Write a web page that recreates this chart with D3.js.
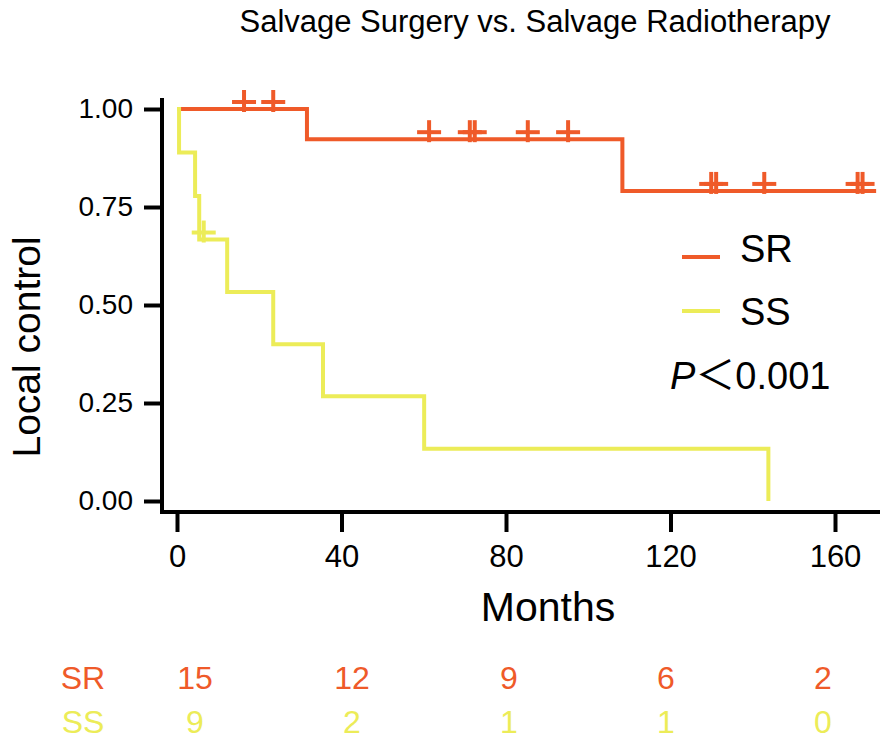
<!DOCTYPE html>
<html>
<head>
<meta charset="utf-8">
<script src="https://cdn.jsdelivr.net/npm/d3@7"></script>
<style>
  body { margin: 0; background: #fff; }
  text { font-family: "Liberation Sans", Arial, sans-serif; }
</style>
</head>
<body>
<svg width="886" height="745"></svg>
<script>
// Kaplan-Meier steps: [time, survival after the step]
var srSteps = [[0, 1.0], [31.6, 0.923], [108.3, 0.791]];
var srEnd = 170;
var srCensor = [16.3, 23.4, 61.3, 71.2, 72.4, 85.3, 95.1, 129.9, 131.1, 142.8, 165.5, 166.7];

var ssSteps = [[0, 1.0], [0.5, 0.889], [4.4, 0.778], [5.4, 0.667], [12.2, 0.533],
               [23.4, 0.4], [35.5, 0.267], [60.1, 0.133], [143.8, 0.0]];
var ssEnd = 143.8;
var ssCensor = [6.5];

var xTicks = [0, 40, 80, 120, 160];
var yTicks = [0, 0.25, 0.5, 0.75, 1];
var riskTimes = [0, 40, 80, 120, 160];
var srRisk = [15, 12, 9, 6, 2];
var ssRisk = [9, 2, 1, 1, 0];

var srColor = "#ef5a29", ssColor = "#ecec58";

var svg = d3.select("svg");

var x = d3.scaleLinear().domain([0, 160]).range([177, 835]);
var y = d3.scaleLinear().domain([0, 1]).range([501, 109]);

// title
svg.append("text")
    .attr("x", 535).attr("y", 32)
    .attr("text-anchor", "middle")
    .style("font-size", "31px")
    .text("Salvage Surgery vs. Salvage Radiotherapy");

// axes
var yAxis = svg.append("g")
    .attr("transform", "translate(162,0)")
    .call(d3.axisLeft(y).tickValues(yTicks).tickFormat(d3.format(".2f")).tickSize(18).tickPadding(11));
var xAxis = svg.append("g")
    .attr("transform", "translate(0,512)")
    .call(d3.axisBottom(x).tickValues(xTicks).tickSize(20).tickPadding(12));

[yAxis, xAxis].forEach(function(a) {
  a.select(".domain").remove();
  a.selectAll("line").attr("stroke", "#000").attr("stroke-width", 4);
  a.selectAll("text").attr("fill", "#000");
});
yAxis.selectAll("text").style("font-size", "28px");
xAxis.selectAll("text").style("font-size", "31px").attr("dy", "0.75em");

svg.append("path")
    .attr("d", "M162,98V512H880")
    .attr("fill", "none")
    .attr("stroke", "#000")
    .attr("stroke-width", 4);

svg.append("text")
    .attr("transform", "translate(40,347) rotate(-90)")
    .attr("text-anchor", "middle")
    .style("font-size", "39px")
    .text("Local control");

svg.append("text")
    .attr("x", 548).attr("y", 621)
    .attr("text-anchor", "middle")
    .style("font-size", "41px")
    .text("Months");

// curves
var line = d3.line()
    .x(function(d) { return x(d[0]); })
    .y(function(d) { return y(d[1]); })
    .curve(d3.curveStepAfter);

function survAt(steps, t) {
  var s = 1;
  steps.forEach(function(d) { if (d[0] <= t) s = d[1]; });
  return s;
}

function drawCurve(steps, end, censor, color) {
  var pts = steps.concat([[end, steps[steps.length - 1][1]]]);
  svg.append("path")
      .datum(pts)
      .attr("d", line)
      .attr("fill", "none")
      .attr("stroke", color)
      .attr("stroke-width", 4);

  var marks = svg.append("g").selectAll("g")
    .data(censor)
    .enter().append("g")
      .attr("transform", function(d) { return "translate(" + x(d) + "," + y(survAt(steps, d)) + ")"; });
  marks.append("line")
      .attr("x1", 0).attr("x2", 0).attr("y1", -19).attr("y2", 3)
      .attr("stroke", color).attr("stroke-width", 4);
  marks.append("line")
      .attr("x1", -12).attr("x2", 12).attr("y1", -7).attr("y2", -7)
      .attr("stroke", color).attr("stroke-width", 4);
}

drawCurve(srSteps, srEnd, srCensor, srColor);
drawCurve(ssSteps, ssEnd, ssCensor, ssColor);

// legend
var legend = [{name: "SR", color: srColor, y: 257, ty: 262}, {name: "SS", color: ssColor, y: 311, ty: 325}];
var lg = svg.append("g").selectAll("g")
  .data(legend)
  .enter().append("g");
lg.append("line")
    .attr("x1", 682).attr("x2", 720)
    .attr("y1", function(d) { return d.y; }).attr("y2", function(d) { return d.y; })
    .attr("stroke", function(d) { return d.color; })
    .attr("stroke-width", 4);
lg.append("text")
    .attr("x", 740).attr("y", function(d) { return d.ty; })
    .style("font-size", "38px")
    .text(function(d) { return d.name; });

var pt = svg.append("text")
    .attr("x", 670).attr("y", 389)
    .style("font-size", "38px");
pt.append("tspan").style("font-style", "italic").text("P");
pt.append("tspan").attr("font-family", "Noto Sans CJK SC").style("font-size", "40px").text("＜");
pt.append("tspan").text("0.001");

// numbers at risk
var xr = d3.scaleLinear().domain([0, 160]).range([195, 823]);
var rows = [{name: "SR", color: srColor, vals: srRisk, y: 678},
            {name: "SS", color: ssColor, vals: ssRisk, y: 722}];
rows.forEach(function(r) {
  var g = svg.append("g").attr("fill", r.color).style("font-size", "32px");
  g.append("text")
      .attr("x", 83).attr("y", r.y).attr("dy", "0.35em")
      .attr("text-anchor", "middle")
      .text(r.name);
  g.selectAll("text.n")
    .data(r.vals)
    .enter().append("text")
      .attr("class", "n")
      .attr("x", function(d, i) { return xr(riskTimes[i]); })
      .attr("y", r.y).attr("dy", "0.35em")
      .attr("text-anchor", "middle")
      .text(function(d) { return d; });
});
</script>
</body>
</html>
